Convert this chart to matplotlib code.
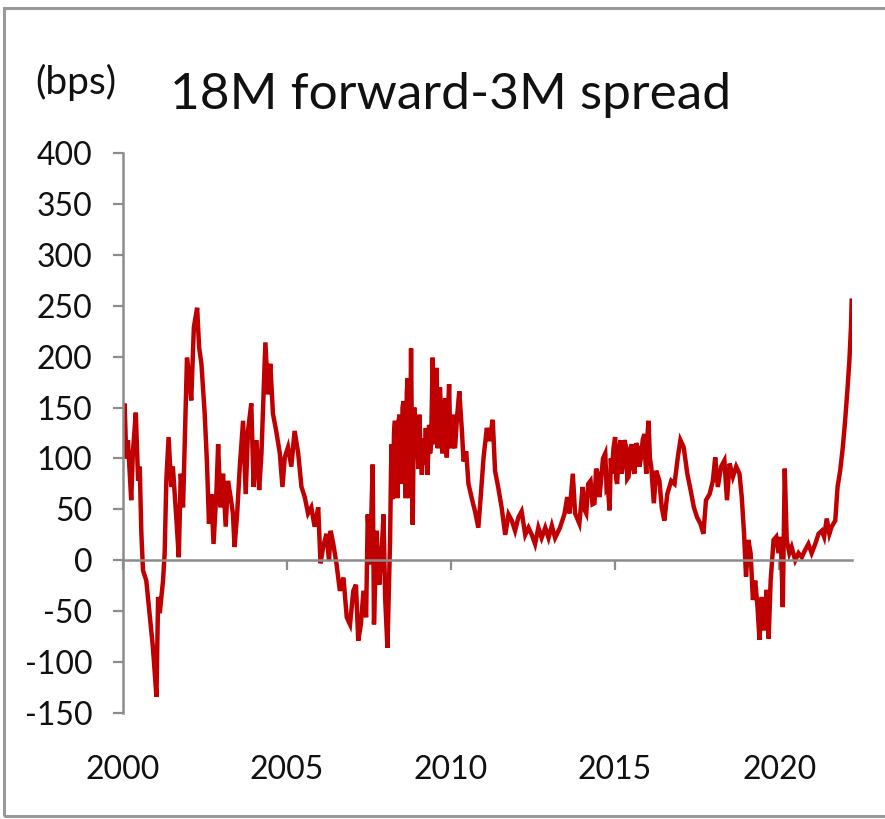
import numpy as np
import matplotlib
matplotlib.use("Agg")
import matplotlib.pyplot as plt
from matplotlib.patches import Rectangle

plt.rcParams['font.family'] = ['Lato', 'DejaVu Sans']
plt.rcParams['axes.unicode_minus'] = False

# 18M forward - 3M spread (bps) in four stretches

# 2000 - early 2008
years_a = [
    2000.00, 2000.05, 2000.10, 2000.15, 2000.25, 2000.30, 2000.39, 2000.46, 2000.51, 2000.56,
    2000.61, 2000.71, 2000.81, 2000.91, 2001.02, 2001.07, 2001.12, 2001.22, 2001.27, 2001.32,
    2001.39, 2001.47, 2001.52, 2001.63, 2001.70, 2001.76, 2001.83, 2001.91, 2001.95, 2002.03,
    2002.08, 2002.16, 2002.26, 2002.32, 2002.39, 2002.49, 2002.56, 2002.62, 2002.69, 2002.76,
    2002.85, 2002.90, 2002.97, 2003.05, 2003.13, 2003.20, 2003.28, 2003.35, 2003.40, 2003.48,
    2003.56, 2003.66, 2003.74, 2003.81, 2003.91, 2003.98, 2004.07, 2004.15, 2004.22, 2004.27,
    2004.34, 2004.42, 2004.49, 2004.57, 2004.67, 2004.78, 2004.86, 2004.93, 2005.03, 2005.13,
    2005.23, 2005.34, 2005.44, 2005.54, 2005.64, 2005.74, 2005.84, 2005.95, 2006.02, 2006.10,
    2006.20, 2006.28, 2006.33, 2006.41, 2006.51, 2006.61, 2006.72, 2006.82, 2006.92, 2007.02,
    2007.10, 2007.17, 2007.25, 2007.33, 2007.41, 2007.46, 2007.53, 2007.61, 2007.65, 2007.73,
    2007.81, 2007.89, 2007.94, 2007.99, 2008.06,
]
bps_a = [
    150, 154, 100, 118, 59, 105, 145, 78, 92, 26,
    -10, -20, -52, -85, -134, -36, -52, -20, 7, 78,
    121, 72, 92, 39, 3, 85, 52, 150, 199, 176,
    157, 229, 248, 209, 193, 144, 95, 36, 65, 16,
    69, 114, 52, 85, 33, 78, 62, 46, 13, 46,
    92, 137, 65, 127, 154, 72, 118, 69, 105, 150,
    214, 163, 193, 144, 127, 105, 72, 101, 111, 92,
    127, 105, 72, 62, 46, 52, 33, 52, -3, 13,
    26, 0, 29, 16, -4, -30, -17, -56, -63, -30,
    -24, -79, -63, -30, -56, 45, -4, 94, -63, 29,
    -24, 12, 45, -37, -86,
]

# 2008 - 2013, the noisy post-crisis hump
years_b = [
    2008.14, 2008.17, 2008.19, 2008.21, 2008.24, 2008.26, 2008.29, 2008.31, 2008.34, 2008.36,
    2008.39, 2008.43, 2008.46, 2008.50, 2008.52, 2008.55, 2008.58, 2008.62, 2008.65, 2008.68,
    2008.70, 2008.73, 2008.76, 2008.78, 2008.81, 2008.83, 2008.86, 2008.88, 2008.92, 2008.97,
    2009.00, 2009.03, 2009.07, 2009.11, 2009.15, 2009.19, 2009.23, 2009.28, 2009.33, 2009.36,
    2009.39, 2009.44, 2009.47, 2009.50, 2009.53, 2009.56, 2009.59, 2009.62, 2009.66, 2009.70,
    2009.73, 2009.77, 2009.82, 2009.85, 2009.87, 2009.91, 2009.94, 2009.97, 2010.00, 2010.05,
    2010.08, 2010.12, 2010.18, 2010.25, 2010.33, 2010.38, 2010.46, 2010.53, 2010.63, 2010.73,
    2010.83, 2010.90, 2010.99, 2011.09, 2011.17, 2011.27, 2011.34, 2011.44, 2011.54, 2011.65,
    2011.75, 2011.85, 2011.95, 2012.05, 2012.15, 2012.26, 2012.36, 2012.46, 2012.56, 2012.66,
    2012.76, 2012.87, 2012.97, 2013.07, 2013.17, 2013.32, 2013.46, 2013.54, 2013.61, 2013.71,
    2013.78, 2013.91,
]
bps_b = [
    19, 90, 114, 60, 78, 125, 137, 70, 120, 61,
    135, 143, 75, 88, 150, 156, 90, 61, 165, 179,
    95, 61, 140, 208, 100, 35, 120, 150, 100, 127,
    90, 143, 110, 84, 120, 94, 130, 84, 133, 105,
    114, 199, 120, 114, 160, 189, 110, 127, 170, 143,
    105, 124, 159, 110, 101, 150, 173, 125, 110, 143,
    115, 110, 140, 166, 127, 97, 107, 75, 61, 48,
    32, 61, 101, 130, 117, 138, 88, 71, 52, 25,
    45, 39, 29, 42, 48, 25, 32, 25, 16, 32,
    22, 32, 22, 34, 22, 32, 46, 62, 46, 85,
    46, 36,
]

# 2014 - 2018
years_c = [
    2014.01, 2014.06, 2014.12, 2014.18, 2014.25, 2014.31, 2014.37, 2014.42, 2014.47, 2014.52,
    2014.57, 2014.63, 2014.70, 2014.74, 2014.78, 2014.83, 2014.87, 2014.90, 2014.95, 2015.00,
    2015.03, 2015.06, 2015.11, 2015.16, 2015.20, 2015.23, 2015.28, 2015.34, 2015.37, 2015.41,
    2015.46, 2015.51, 2015.55, 2015.59, 2015.64, 2015.69, 2015.74, 2015.79, 2015.84, 2015.89,
    2015.92, 2015.95, 2015.99, 2016.02, 2016.06, 2016.10, 2016.18, 2016.25, 2016.35, 2016.42,
    2016.50, 2016.59, 2016.71, 2016.81, 2016.91, 2016.99, 2017.09, 2017.20, 2017.30, 2017.40,
    2017.50, 2017.60, 2017.69, 2017.77, 2017.88, 2017.98, 2018.05, 2018.13, 2018.23, 2018.33,
    2018.41, 2018.49, 2018.59, 2018.69, 2018.79,
]
bps_c = [
    72, 50, 46, 75, 78, 55, 56, 90, 85, 62,
    78, 100, 105, 70, 72, 49, 100, 85, 110, 121,
    80, 75, 105, 118, 85, 92, 118, 111, 80, 82,
    108, 114, 90, 85, 115, 111, 92, 101, 118, 124,
    100, 85, 125, 137, 100, 92, 56, 88, 78, 52,
    39, 65, 78, 75, 101, 118, 111, 85, 69, 52,
    42, 36, 26, 59, 65, 78, 101, 72, 92, 98,
    59, 95, 82, 92, 85,
]

# 2019 - 2022
years_d = [
    2018.86, 2018.93, 2018.99, 2019.06, 2019.13, 2019.20, 2019.27, 2019.34, 2019.40, 2019.47,
    2019.54, 2019.62, 2019.68, 2019.74, 2019.83, 2019.91, 2019.98, 2020.05, 2020.11, 2020.17,
    2020.23, 2020.31, 2020.38, 2020.49, 2020.59, 2020.69, 2020.79, 2020.89, 2020.99, 2021.10,
    2021.20, 2021.30, 2021.37, 2021.45, 2021.53, 2021.60, 2021.71, 2021.78, 2021.86, 2021.94,
    2022.01, 2022.08, 2022.14, 2022.19, 2022.21,
]
bps_d = [
    62, 26, -16, 20, 7, -39, -20, -46, -78, -36,
    -69, -29, -77, -20, 20, 23, 7, 23, -46, 90,
    20, 7, 13, 0, 7, 3, 10, 16, 7, 16,
    26, 29, 23, 41, 26, 33, 39, 72, 88, 111,
    137, 167, 196, 230, 255,
]

years = years_a + years_b + years_c + years_d
spread_bps = bps_a + bps_b + bps_c + bps_d

y_ticks = [-150, -100, -50, 0, 50, 100, 150, 200, 250, 300, 350, 400]
x_ticks = [2000, 2005, 2010, 2015, 2020]

axis_grey = '#8c8c8c'

fig = plt.figure(figsize=(8.85, 8.19), dpi=100)
ax = fig.add_axes([123 / 885, 1 - 713 / 819, (852 - 123) / 885, (713 - 153) / 819])

ax.plot(years, spread_bps, color='#c00000', lw=3.2, solid_joinstyle='miter')

ax.set_ylim(-150, 400)
ax.set_xlim(2000, 2022.22)
ax.set_yticks(y_ticks)
ax.set_xticks(x_ticks)

for s in ['top', 'right']:
    ax.spines[s].set_visible(False)
ax.spines['left'].set_color(axis_grey)
ax.spines['left'].set_linewidth(1.8)
ax.spines['bottom'].set_color(axis_grey)
ax.spines['bottom'].set_linewidth(1.8)
ax.spines['bottom'].set_position(('data', 0))

ax.tick_params(axis='y', direction='out', length=7, width=1.6, color=axis_grey,
               labelsize=23, labelcolor='#111111', pad=15)
ax.tick_params(axis='x', direction='out', length=7, width=1.6, color=axis_grey,
               labelsize=23, labelcolor='#111111', pad=133)

fig.text(170 / 885, 1 - 95 / 819, '18M forward-3M spread', fontsize=37,
         ha='left', va='center', color='#111111')
fig.text(35 / 885, 1 - 82 / 819, '(bps)', fontsize=28,
         ha='left', va='center', color='#111111')

# outer chart frame
frame = Rectangle((4 / 885, 3 / 819), 1.2, 1 - 11 / 819, transform=fig.transFigure,
                  fill=False, edgecolor='#999999', lw=2.2, clip_on=False)
fig.patches.append(frame)

fig.savefig('out.png', dpi=100)
